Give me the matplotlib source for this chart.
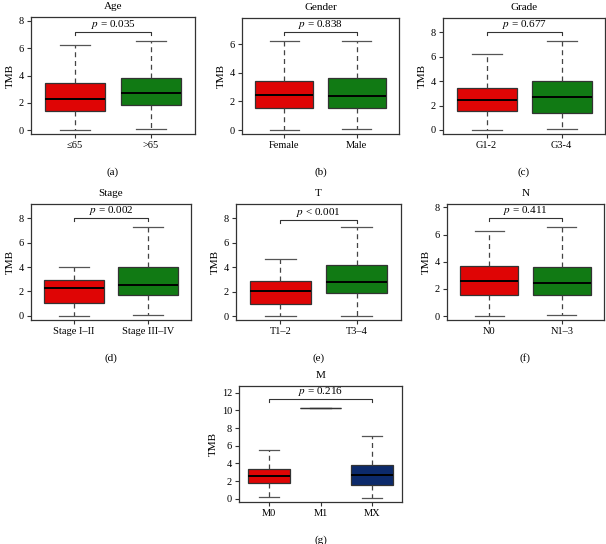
import matplotlib
matplotlib.use("Agg")
import matplotlib.pyplot as plt

plt.rcParams['font.family'] = ['Liberation Serif', 'DejaVu Serif']
plt.rcParams['mathtext.fontset'] = 'stix'

# box statistics: whislo, q1, median, q3, whishi
age_groups = ["≤65", ">65"]
age_stats = [[0.00, 1.39, 2.29, 3.44, 6.22], [0.10, 1.85, 2.73, 3.85, 6.54]]
gender_groups = ["Female", "Male"]
gender_stats = [[0.02, 1.52, 2.48, 3.46, 6.21], [0.07, 1.52, 2.38, 3.64, 6.21]]
grade_groups = ["G1-2", "G3-4"]
grade_stats = [[0.00, 1.58, 2.46, 3.47, 6.26], [0.05, 1.39, 2.68, 3.99, 7.32]]
stage_groups = ["Stage I\u2013II", "Stage III\u2013IV"]
stage_stats = [[0.00, 1.07, 2.27, 2.96, 4.03], [0.03, 1.67, 2.52, 3.97, 7.32]]
t_groups = ["T1\u20132", "T3\u20134"]
t_stats = [[0.03, 1.03, 2.07, 2.86, 4.71], [0.05, 1.93, 2.78, 4.16, 7.29]]
n_groups = ["N0", "N1\u20133"]
n_stats = [[0.00, 1.57, 2.58, 3.71, 6.26], [0.05, 1.52, 2.40, 3.63, 6.55]]
m_groups = ["M0", "M1", "MX"]
m_stats = [[0.19, 1.74, 2.53, 3.40, 5.55], [10.27, 10.27, 10.27, 10.27, 10.27],
           [0.11, 1.51, 2.64, 3.85, 7.09]]

p_texts = ["0.035", "0.838", "0.677", "0.002", "< 0.001", "0.411", "0.216"]
bracket_y = [7.17, 6.87, 8.03, 8.0, 7.89, 7.24, 11.25]

RED = "#df0505"
GREEN = "#117a14"
NAVY = "#0c2a6b"

W, H = 606, 544
fig = plt.figure(figsize=(W / 100, H / 100), dpi=100)


def px_axes(left, right, top, bottom):
    return fig.add_axes([left / W, 1 - bottom / H, (right - left) / W, (bottom - top) / H])


panels = [
    ("Age", age_groups, age_stats, [RED, GREEN], (31, 195, 17, 134), (-0.29, 8.29), [0, 2, 4, 6, 8], "(a)"),
    ("Gender", gender_groups, gender_stats, [RED, GREEN], (242, 399, 18, 134), (-0.28, 7.84), [0, 2, 4, 6], "(b)"),
    ("Grade", grade_groups, grade_stats, [RED, GREEN], (443, 605, 18, 134), (-0.33, 9.18), [0, 2, 4, 6, 8], "(c)"),
    ("Stage", stage_groups, stage_stats, [RED, GREEN], (31, 191, 204, 320), (-0.35, 9.18), [0, 2, 4, 6, 8], "(d)"),
    ("T", t_groups, t_stats, [RED, GREEN], (236, 401, 204, 320), (-0.3, 9.17), [0, 2, 4, 6, 8], "(e)"),
    ("N", n_groups, n_stats, [RED, GREEN], (447, 604, 204, 320), (-0.29, 8.25), [0, 2, 4, 6, 8], "(f)"),
    ("M", m_groups, m_stats, [RED, "white", NAVY], (239, 402, 386, 502), (-0.37, 12.76), [0, 2, 4, 6, 8, 10, 12], "(g)"),
]

for i, (title, groups, stats, colors, box, ylim, yticks, tag) in enumerate(panels):
    ax = px_axes(*box)
    n = len(groups)
    bstats = []
    for g, s in zip(groups, stats):
        bstats.append(dict(label=g, whislo=s[0], q1=s[1], med=s[2], q3=s[3], whishi=s[4], fliers=[]))
    res = ax.bxp(bstats, positions=range(1, n + 1), widths=0.8, patch_artist=True,
                 showfliers=False,
                 boxprops=dict(edgecolor="#333333", linewidth=0.9),
                 whiskerprops=dict(color="#444444", linewidth=0.9, linestyle=(0, (4, 3))),
                 capprops=dict(color="#555555", linewidth=0.9),
                 medianprops=dict(color="black", linewidth=1.4),
                 capwidths=0.4)
    for patch, c in zip(res["boxes"], colors):
        patch.set_facecolor(c)
    # a group with a single value collapses to a thin line
    for k, s in enumerate(stats):
        if s[0] == s[4]:
            res["medians"][k].set_linewidth(0.9)
            res["medians"][k].set_color("#333333")

    ax.set_xlim(0.42, n + 0.58)
    ax.set_ylim(*ylim)
    ax.set_yticks(yticks)
    ax.set_xticks(range(1, n + 1))
    ax.set_xticklabels(groups)
    ax.tick_params(labelsize=7.5, length=3, width=0.8, color="#333333", pad=2)
    for sp in ax.spines.values():
        sp.set_color("#333333")
        sp.set_linewidth(0.9)
    ax.set_ylabel("TMB", fontsize=8, labelpad=3)
    ax.set_title(title, fontsize=8, pad=6)

    # significance bracket between first and last group
    yb = bracket_y[i]
    tick = (ylim[1] - ylim[0]) * 0.025
    ax.plot([1, 1, n, n], [yb - tick, yb, yb, yb - tick], color="#333333", lw=0.8)
    pt = p_texts[i]
    sep = " " if pt.startswith("<") else " = "
    ax.text((1 + n) / 2, yb + tick * 0.3, r"$p$" + sep + pt, ha="center", va="bottom", fontsize=8)

    left, right, top, bottom = box
    fig.text((left + right) / 2 / W, 1 - (bottom + 38) / H, tag, ha="center", va="center", fontsize=8)

fig.savefig("out.png", dpi=100)
